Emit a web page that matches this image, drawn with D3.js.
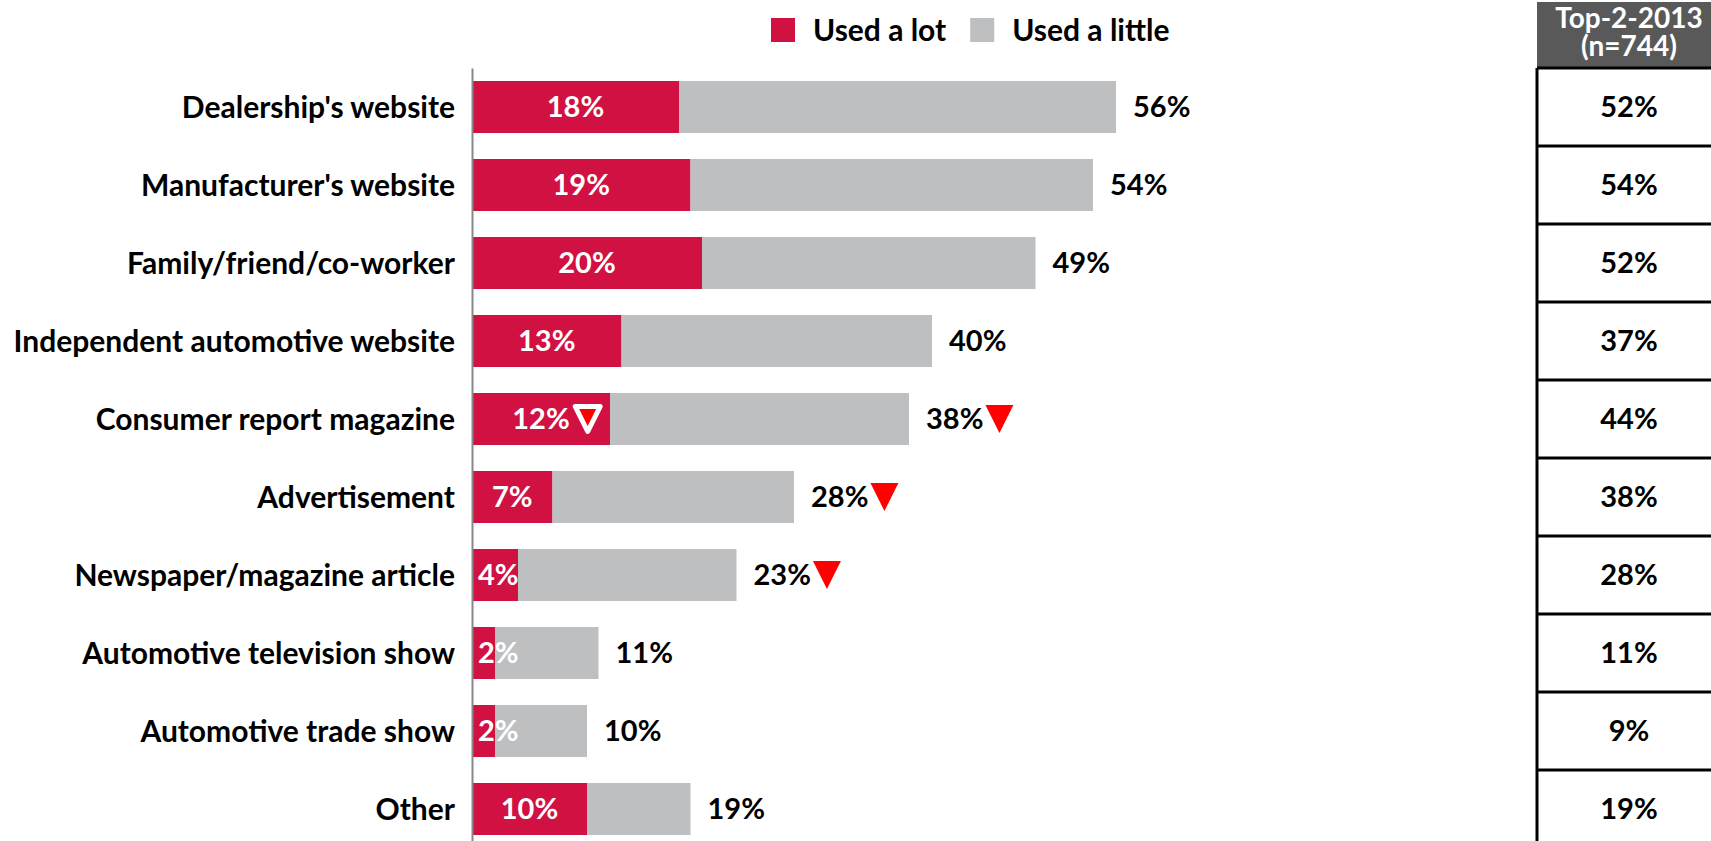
<!DOCTYPE html>
<html>
<head>
<meta charset="utf-8">
<script src="https://cdn.jsdelivr.net/npm/d3@7"></script>
<style>
  body { margin: 0; background: #fff; }
  svg text { font-family: Lato, "Open Sans", sans-serif; font-weight: bold; }
</style>
</head>
<body>
<div id="chart"></div>
<script>
//chart data
const categories = ["Dealership's website", "Manufacturer's website", "Family/friend/co-worker",
    "Independent automotive website", "Consumer report magazine", "Advertisement",
    "Newspaper/magazine article", "Automotive television show", "Automotive trade show", "Other"];
const used_a_lot = [18, 19, 20, 13, 12, 7, 4, 2, 2, 10];
const top_2 = [56, 54, 49, 40, 38, 28, 23, 11, 10, 19];
const top_2_2013 = [52, 54, 52, 37, 44, 38, 28, 11, 9, 19];
//significant drop markers
const drop_lot = [false, false, false, false, true, false, false, false, false, false];
const drop_top = [false, false, false, false, true, true, true, false, false, false];
const series_names = ["Used a lot", "Used a little"];
const table_header = ["Top-2-2013", "(n=744)"];

const width = 1711, height = 841;
const red = '#d01142', grey = '#bebfc1';

let rows = categories.map(function(c, i) {
    return {cat: c, lot: used_a_lot[i], little: top_2[i] - used_a_lot[i], total: top_2[i],
        prev: top_2_2013[i], drop_lot: drop_lot[i], drop_top: drop_top[i]};
});

let svg = d3.select('#chart')
    .append('svg')
    .attr('width', width)
    .attr('height', height);

//scales
let x = d3.scaleLinear().domain([0, 60]).range([472, 1162]);
let y = d3.scaleBand().domain(categories).range([68, 848])
    .paddingInner(1 / 3).paddingOuter(1 / 6);

//stacked bars
let bar = svg.append('g').selectAll('g')
    .data(rows)
    .enter().append('g');

bar.append('rect')
    .attr('x', x(0))
    .attr('y', function(d) { return y(d.cat); })
    .attr('width', function(d) { return x(d.lot) - x(0); })
    .attr('height', y.bandwidth())
    .attr('fill', red);

bar.append('rect')
    .attr('x', function(d) { return x(d.lot); })
    .attr('y', function(d) { return y(d.cat); })
    .attr('width', function(d) { return x(d.total) - x(d.lot); })
    .attr('height', y.bandwidth())
    .attr('fill', grey);

//axis with category labels
let axis = svg.append('g')
    .attr('transform', `translate(${x(0)}, 0)`)
    .call(d3.axisLeft(y).tickSize(0).tickSizeOuter(0).tickPadding(17));
axis.select('.domain').attr('stroke', '#878787').attr('stroke-width', 2);
axis.selectAll('text')
    .style('font-size', '30px')
    .attr('fill', '#000')
    .attr('dy', '0.36em');

//triangle marker, pointing down
function triangle(g, cx, cy, s) {
    return g.append('path')
        .attr('d', `M${cx - s / 2},${cy - s / 2}L${cx + s / 2},${cy - s / 2}L${cx},${cy + s / 2}Z`)
        .attr('fill', '#ff0000');
}

//labels inside the red part
bar.each(function(d) {
    let g = d3.select(this);
    let cy = y(d.cat) + y.bandwidth() / 2;
    let t = g.append('text')
        .attr('y', cy)
        .attr('dy', '0.36em')
        .attr('text-anchor', 'middle')
        .attr('fill', '#fff')
        .style('font-size', '29px')
        .text(d.lot + '%');
    let w = t.node().getComputedTextLength();
    let cx = (x(0) + x(d.lot)) / 2;
    cx = Math.max(cx, x(0) + 6 + w / 2);
    t.attr('x', cx);
    if (d.drop_lot) {
        triangle(g, cx + w / 2 + 18, cy, 25)
            .attr('stroke', '#fff')
            .attr('stroke-width', 5)
            .attr('stroke-linejoin', 'round');
    }

    //total label
    let tt = g.append('text')
        .attr('x', x(d.total) + 17)
        .attr('y', cy)
        .attr('dy', '0.36em')
        .attr('fill', '#000')
        .style('font-size', '29px')
        .text(d.total + '%');
    if (d.drop_top) {
        let tw = tt.node().getComputedTextLength();
        triangle(g, x(d.total) + 17 + tw + 16, cy, 28);
    }
});

//legend
let legend = svg.append('g');
let lx = 771;
series_names.forEach(function(s, i) {
    legend.append('rect')
        .attr('x', lx).attr('y', 18)
        .attr('width', 24).attr('height', 24)
        .attr('fill', i === 0 ? red : grey);
    let t = legend.append('text')
        .attr('x', lx + 42).attr('y', 41)
        .attr('fill', '#000')
        .style('font-size', '30px')
        .text(s);
    lx += 42 + t.node().getComputedTextLength() + 24;
});

//comparison table on the right
let tx = 1537, tcx = 1629;
svg.append('rect')
    .attr('x', tx).attr('y', 2)
    .attr('width', width - tx).attr('height', 66)
    .attr('fill', '#595959');
table_header.forEach(function(h, i) {
    svg.append('text')
        .attr('x', tcx).attr('y', 28 + i * 28)
        .attr('text-anchor', 'middle')
        .attr('fill', '#fff')
        .style('font-size', '28px')
        .text(h);
});

let pad = (y.step() - y.bandwidth()) / 2;
let cell = svg.append('g').selectAll('g')
    .data(rows)
    .enter().append('g');
cell.append('line')
    .attr('x1', tx).attr('x2', width)
    .attr('y1', function(d) { return y(d.cat) - pad; })
    .attr('y2', function(d) { return y(d.cat) - pad; })
    .attr('stroke', '#000').attr('stroke-width', 3);
cell.append('text')
    .attr('x', tcx)
    .attr('y', function(d) { return y(d.cat) + y.bandwidth() / 2; })
    .attr('dy', '0.36em')
    .attr('text-anchor', 'middle')
    .attr('fill', '#000')
    .style('font-size', '29px')
    .text(function(d) { return d.prev + '%'; });
svg.append('line')
    .attr('x1', tx).attr('x2', tx)
    .attr('y1', 68).attr('y2', height)
    .attr('stroke', '#000').attr('stroke-width', 3);
</script>
</body>
</html>
